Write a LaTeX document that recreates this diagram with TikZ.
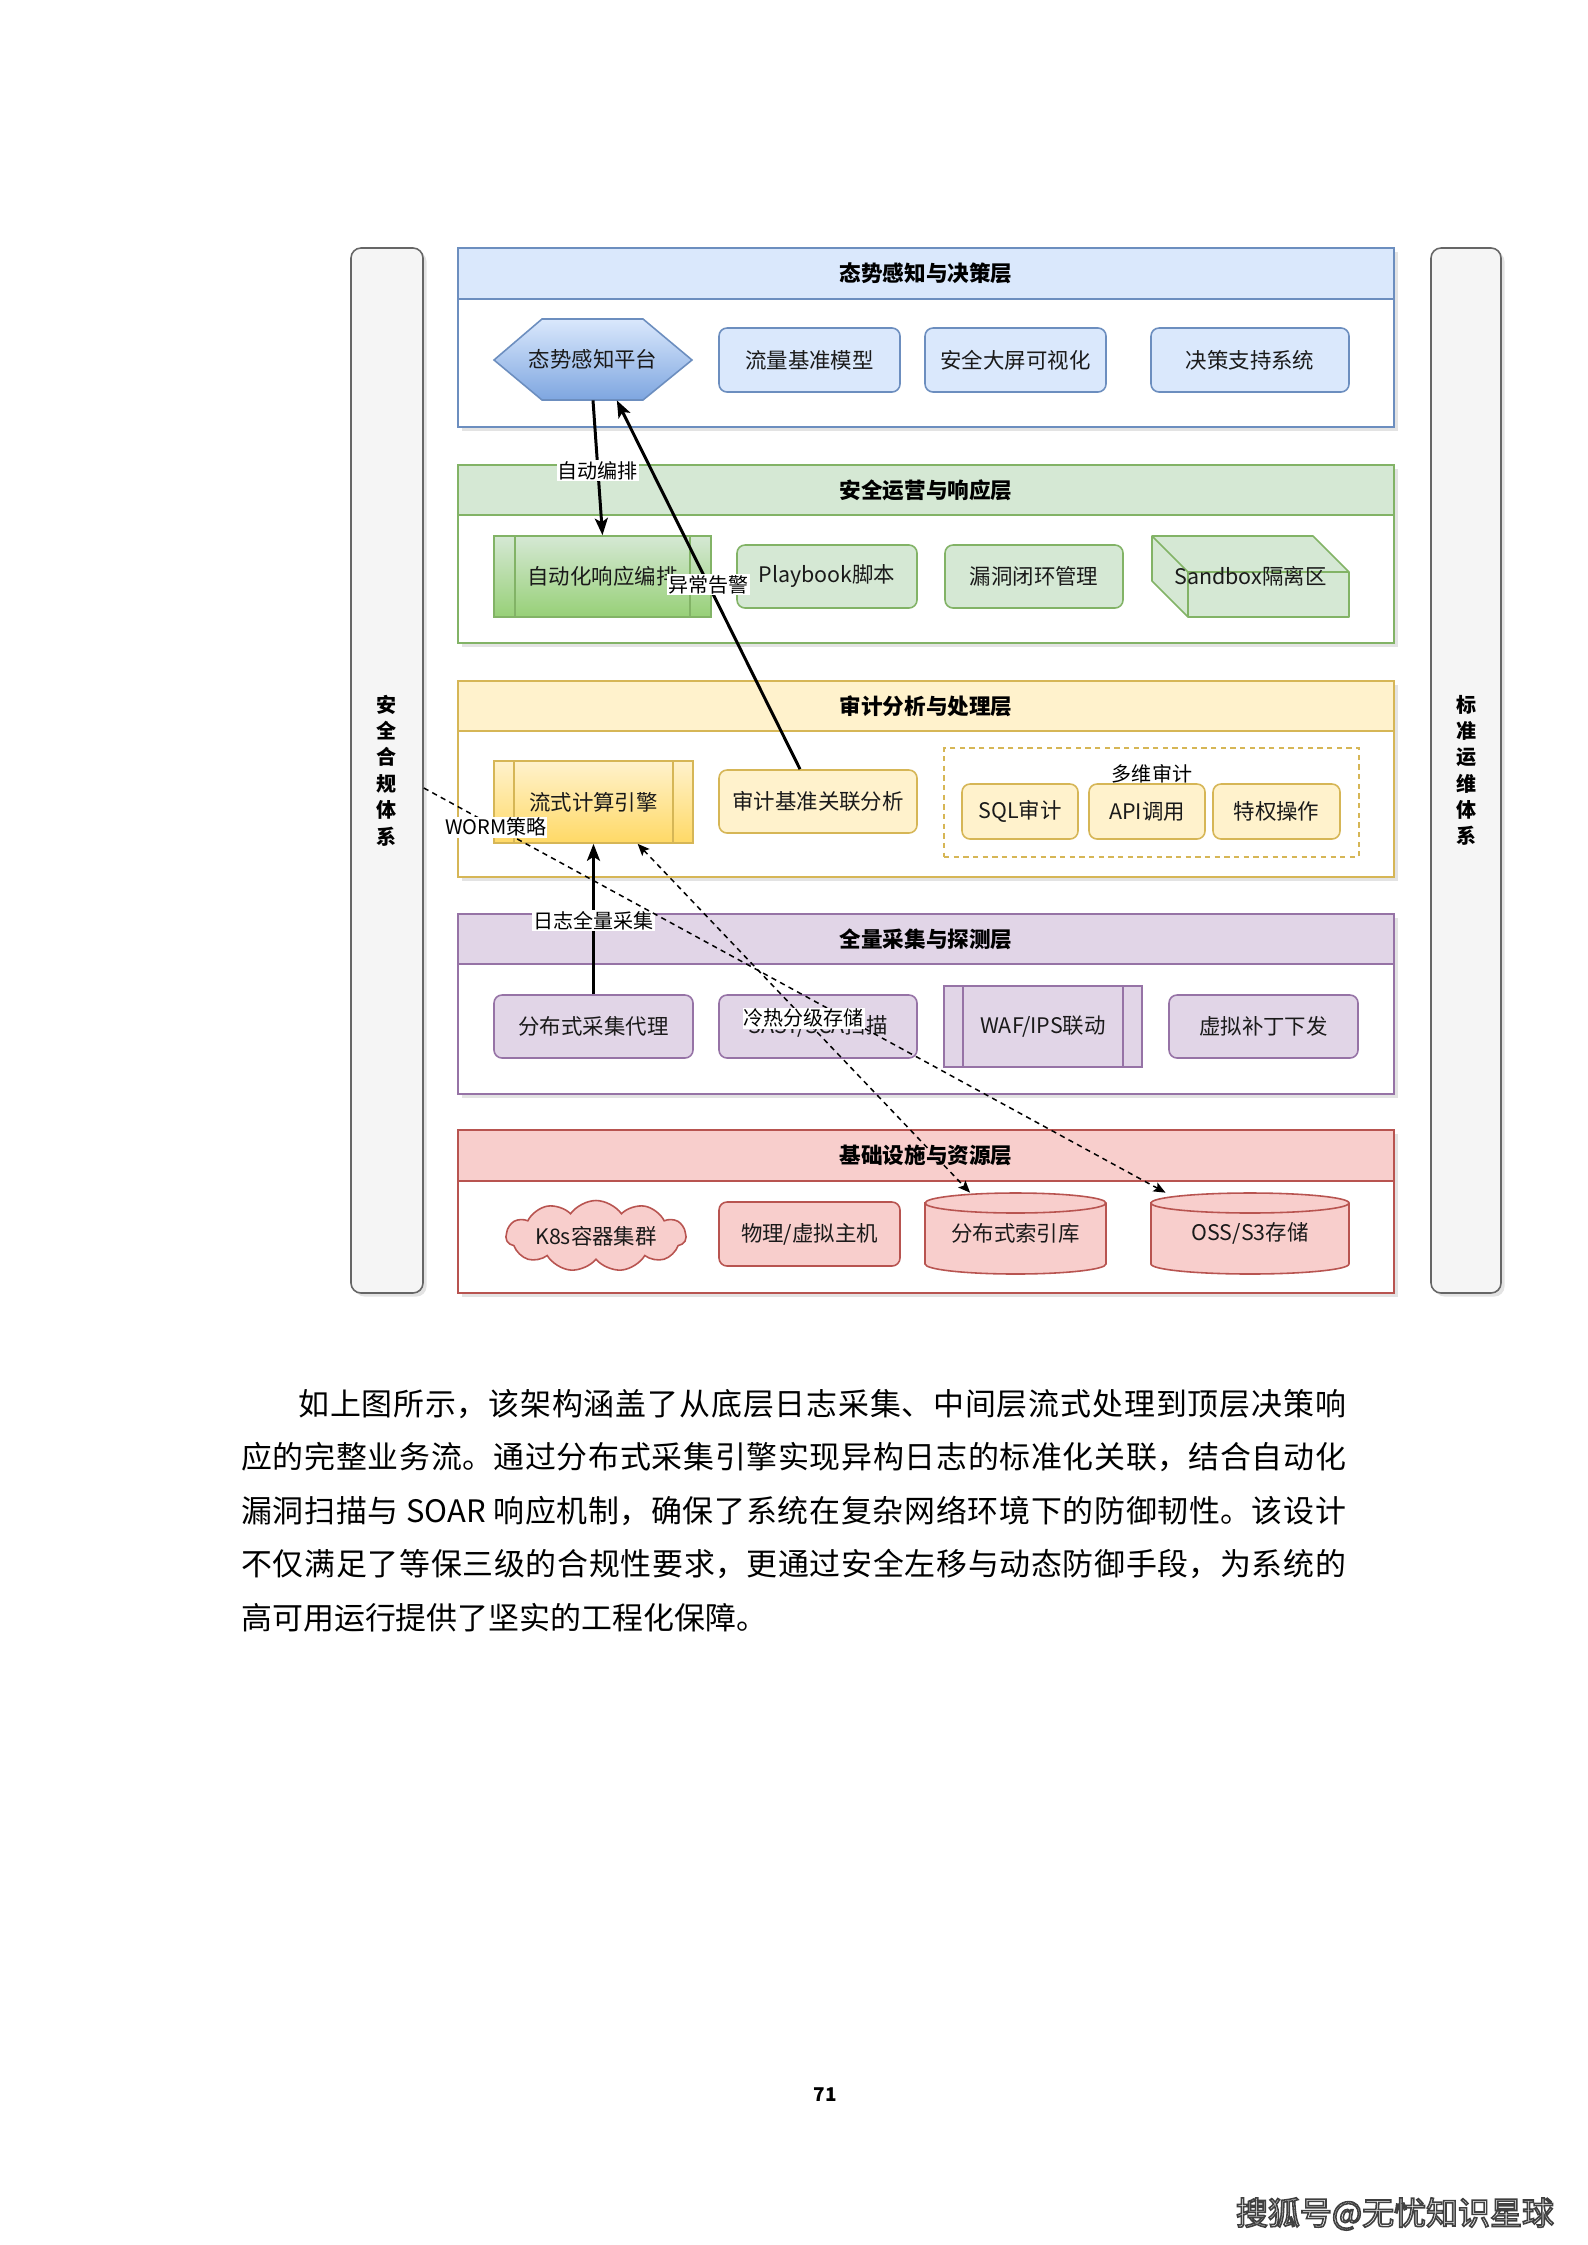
\documentclass[tikz,border=0pt]{standalone}
\usepackage{fontspec}
\setmainfont{Noto Sans CJK SC}
\usetikzlibrary{arrows.meta,shadows,calc,shapes.symbols}
\definecolor{bluef}{HTML}{DAE8FC}
\definecolor{blues}{HTML}{6C8EBF}
\definecolor{blued}{HTML}{7EA6E0}
\definecolor{greenf}{HTML}{D5E8D4}
\definecolor{greens}{HTML}{82B366}
\definecolor{greend}{HTML}{97D077}
\definecolor{yellowf}{HTML}{FFF2CC}
\definecolor{yellows}{HTML}{D6B656}
\definecolor{yellowd}{HTML}{FFD966}
\definecolor{purplef}{HTML}{E1D5E7}
\definecolor{purples}{HTML}{9673A6}
\definecolor{redf}{HTML}{F8CECC}
\definecolor{reds}{HTML}{B85450}
\definecolor{panelf}{HTML}{F5F5F5}
\definecolor{panels}{HTML}{666666}
\definecolor{txt}{HTML}{1A1A1A}
\newcommand\nodefont{\fontsize{12.2pt}{14pt}\selectfont}
\newcommand\titlefont{\fontsize{12.3pt}{14pt}\selectfont\bfseries}
\newcommand\lblfont{\fontsize{11.4pt}{13pt}\selectfont}
\newcommand\sidefont{\fontsize{11.4pt}{15pt}\selectfont\bfseries}
\newcommand\parafont{\fontsize{17.6pt}{30.45pt}\selectfont}
\tikzset{
  wh/.style 2 args={minimum width=#1*0.02cm,minimum height=#2*0.02cm},
  shd/.style={drop shadow={shadow xshift=0.07cm,shadow yshift=-0.07cm,opacity=0.22}},
  layerbox/.style={draw=#1,fill=white,line width=0.9pt,inner sep=0pt,shd},
  headbox/.style 2 args={draw=#2,fill=#1,line width=0.9pt,inner sep=0pt,font=\titlefont,text=black},
  rbox/.style 2 args={draw=#2,fill=#1,line width=0.9pt,rounded corners=0.16cm,inner sep=0pt,font=\nodefont,text=txt},
  plainbox/.style={inner sep=0pt,font=\nodefont,text=txt},
  panelbox/.style={draw=panels,fill=panelf,line width=0.9pt,rounded corners=0.2cm,inner sep=0pt,font=\sidefont,align=center,shd},
  lbl/.style={fill=white,inner sep=0.6pt,font=\lblfont,text=black},
  arr/.style={line width=1.7pt,-{Stealth[length=0.34cm,width=0.26cm,inset=0.08cm]}},
  darr/.style={line width=0.85pt,dash pattern=on 3pt off 2.5pt,-{Stealth[length=0.24cm,width=0.2cm,inset=0.05cm]}},
  edgeln/.style={line width=0.9pt}
}
\begin{document}
\begin{tikzpicture}[x=0.02cm,y=-0.02cm]
\useasboundingbox[fill=white] (0,0) rectangle (1587,2245);

% side panels
\node[panelbox,wh={72}{1045}] (lp) at (387,770.5) {安\\全\\合\\规\\体\\系};
\node[panelbox,wh={70}{1045}] (rp) at (1466,770.5) {标\\准\\运\\维\\体\\系};

% layer 1
\node[layerbox=blues,wh={936}{179}] (L1) at (926,337.5) {};
\node[headbox={bluef}{blues},wh={936}{51}] (L1h) at (926,273.5) {态势感知与决策层};
\path[draw=blues,line width=0.9pt,top color=bluef,bottom color=blued]
  (494,360) -- (542,319) -- (643,319) -- (692,360) -- (643,400) -- (542,400) -- cycle;
\node[plainbox,wh={198}{81}] (hex) at (593,359.5) {态势感知平台};
\node[rbox={bluef}{blues},wh={181}{64}] (n12) at (809.5,360) {流量基准模型};
\node[rbox={bluef}{blues},wh={181}{64}] (n13) at (1015.5,360) {安全大屏可视化};
\node[rbox={bluef}{blues},wh={198}{64}] (n14) at (1250,360) {决策支持系统};

% layer 2
\node[layerbox=greens,wh={936}{178}] (L2) at (926,554) {};
\node[headbox={greenf}{greens},wh={936}{50}] (L2h) at (926,490) {安全运营与响应层};
\node[plainbox,draw=greens,line width=0.9pt,top color=greenf,bottom color=greend,wh={217}{81}] (n21) at (602.5,576.5) {自动化响应编排};
\draw[edgeln,greens] ($(n21.north west)+(22,0)$) -- ($(n21.south west)+(22,0)$);
\draw[edgeln,greens] ($(n21.north east)+(-22,0)$) -- ($(n21.south east)+(-22,0)$);
\node[rbox={greenf}{greens},wh={180}{63}] (n22) at (827,576.5) {Playbook脚本};
\node[rbox={greenf}{greens},wh={178}{63}] (n23) at (1034,576.5) {漏洞闭环管理};
\path[draw=greens,fill=greenf,line width=0.9pt,line join=round]
  (1152,536) -- (1313,536) -- (1349,572) -- (1349,617) -- (1188,617) -- (1152,581) -- cycle;
\draw[edgeln,greens,line join=round] (1188,617) -- (1188,572) -- (1349,572) (1188,572) -- (1152,536);
\node[plainbox,wh={197}{81}] (n24) at (1250.5,576.5) {Sandbox隔离区};

% layer 3
\node[layerbox=yellows,wh={936}{196}] (L3) at (926,779) {};
\node[headbox={yellowf}{yellows},wh={936}{50}] (L3h) at (926,706) {审计分析与处理层};
\node[plainbox,draw=yellows,line width=0.9pt,top color=yellowf,bottom color=yellowd,wh={199}{82}] (n31) at (593.5,802) {流式计算引擎};
\draw[edgeln,yellows] ($(n31.north west)+(21,0)$) -- ($(n31.south west)+(21,0)$);
\draw[edgeln,yellows] ($(n31.north east)+(-21,0)$) -- ($(n31.south east)+(-21,0)$);
\node[rbox={yellowf}{yellows},wh={198}{63}] (n32) at (818,801.5) {审计基准关联分析};
\node[draw=yellows,line width=0.9pt,dash pattern=on 3pt off 2.5pt,inner sep=0pt,wh={415}{109}] (grp) at (1151.5,802.5) {};
\node[font=\lblfont,text=black,inner sep=0pt] (grpl) at (1152,774) {多维审计};
\node[rbox={yellowf}{yellows},wh={116}{55}] (n33) at (1020,811.5) {SQL审计};
\node[rbox={yellowf}{yellows},wh={116}{55}] (n34) at (1147,811.5) {API调用};
\node[rbox={yellowf}{yellows},wh={127}{55}] (n35) at (1276.5,811.5) {特权操作};

% layer 4
\node[layerbox=purples,wh={936}{180}] (L4) at (926,1004) {};
\node[headbox={purplef}{purples},wh={936}{50}] (L4h) at (926,939) {全量采集与探测层};
\node[rbox={purplef}{purples},wh={199}{63}] (n41) at (593.5,1026.5) {分布式采集代理};
\node[rbox={purplef}{purples},wh={198}{63}] (n42) at (818,1026.5) {SAST/SCA扫描};
\node[plainbox,draw=purples,fill=purplef,line width=0.9pt,wh={198}{81}] (n43) at (1043,1026.5) {WAF/IPS联动};
\draw[edgeln,purples] ($(n43.north west)+(20,0)$) -- ($(n43.south west)+(20,0)$);
\draw[edgeln,purples] ($(n43.north east)+(-20,0)$) -- ($(n43.south east)+(-20,0)$);
\node[rbox={purplef}{purples},wh={189}{63}] (n44) at (1263.5,1026.5) {虚拟补丁下发};

% layer 5
\node[layerbox=reds,wh={936}{163}] (L5) at (926,1211.5) {};
\node[headbox={redf}{reds},wh={936}{51}] (L5h) at (926,1155.5) {基础设施与资源层};
\node[cloud,cloud puffs=11,cloud puff arc=110,cloud ignores aspect,draw=reds,fill=redf,line width=0.9pt,
  minimum width=3.6cm,minimum height=1.42cm,inner sep=0pt,font=\nodefont,text=txt] (n51) at (596,1236) {K8s容器集群};
\node[rbox={redf}{reds},wh={181}{64}] (n52) at (809.5,1234) {物理/虚拟主机};
% cylinders
\path[draw=reds,fill=redf,line width=0.9pt]
  (925,1203) -- (925,1264) arc[start angle=180,end angle=360,x radius=1.81cm,y radius=0.2cm]
  -- (1106,1203) arc[start angle=0,end angle=180,x radius=1.81cm,y radius=0.2cm] -- cycle;
\draw[edgeln,reds] (925,1203) arc[start angle=180,end angle=360,x radius=1.81cm,y radius=0.2cm];
\node[plainbox,wh={181}{81}] (n53) at (1015.5,1233.5) {分布式索引库};
\path[draw=reds,fill=redf,line width=0.9pt]
  (1151,1203) -- (1151,1264) arc[start angle=180,end angle=360,x radius=1.98cm,y radius=0.2cm]
  -- (1349,1203) arc[start angle=0,end angle=180,x radius=1.98cm,y radius=0.2cm] -- cycle;
\draw[edgeln,reds] (1151,1203) arc[start angle=180,end angle=360,x radius=1.98cm,y radius=0.2cm];
\node[plainbox,wh={198}{81}] (n54) at (1250,1233.5) {OSS/S3存储};

% connectors
\draw[arr] (hex.south) -- node[lbl,pos=0.52] (e1l) {自动编排} (n21.north);
\coordinate (a2s) at ($(n32.north west)!0.41!(n32.north east)$);
\coordinate (a2e) at ($(hex.south west)!0.62!(hex.south east)$);
\draw[arr] (a2s) -- node[lbl,pos=0.5] (e2l) {异常告警} (a2e);
\draw[arr] (n41.north) -- node[lbl,pos=0.49] (e3l) {日志全量采集} (n31.south);
\coordinate (w0) at ($(lp.east)+(0,17.5)$);
\coordinate (w1) at ($(n54.north west)!0.075!(n54.north east)$);
\draw[darr] (w0) -- node[lbl,pos=0.097] (e4l) {WORM策略} (w1);
\coordinate (c0) at ($(n31.south west)!0.72!(n31.south east)$);
\coordinate (c1) at ($(n53.north west)!0.25!(n53.north east)$);
\draw[darr,{Stealth[length=0.24cm,width=0.2cm,inset=0.05cm]}-{Stealth[length=0.24cm,width=0.2cm,inset=0.05cm]}] (c0) -- node[lbl,pos=0.5] (e5l) {冷热分级存储} (c1);

% paragraph
\node[anchor=north west,inner sep=0pt,text width=22.1cm,align=justify,font=\parafont,text=black] (para) at (241,1389)
{\XeTeXlinebreaklocale "zh"\XeTeXlinebreakskip=0pt plus 2pt\relax
\hspace*{1.14cm}如上图所示，该架构涵盖了从底层日志采集、中间层流式处理到顶层决策响\linebreak
应的完整业务流。通过分布式采集引擎实现异构日志的标准化关联，结合自动化\linebreak
漏洞扫描与 SOAR 响应机制，确保了系统在复杂网络环境下的防御韧性。该设计\linebreak
不仅满足了等保三级的合规性要求，更通过安全左移与动态防御手段，为系统的\linebreak
高可用运行提供了坚实的工程化保障。\par};

% page number
\node[font=\fontsize{10.8pt}{12pt}\selectfont\bfseries,text=black,inner sep=0pt] (pnum) at (825,2095) {71};

% source mark
\node[font=\fontsize{18.2pt}{20pt}\selectfont,text=white,inner sep=0pt] (wm) at (1395,2214)
{\special{pdf:literal direct 2 Tr 0.9 w 0.25 0.25 0.25 RG}搜狐号@无忧知识星球\special{pdf:literal direct 0 Tr}};
\end{tikzpicture}
\end{document}
